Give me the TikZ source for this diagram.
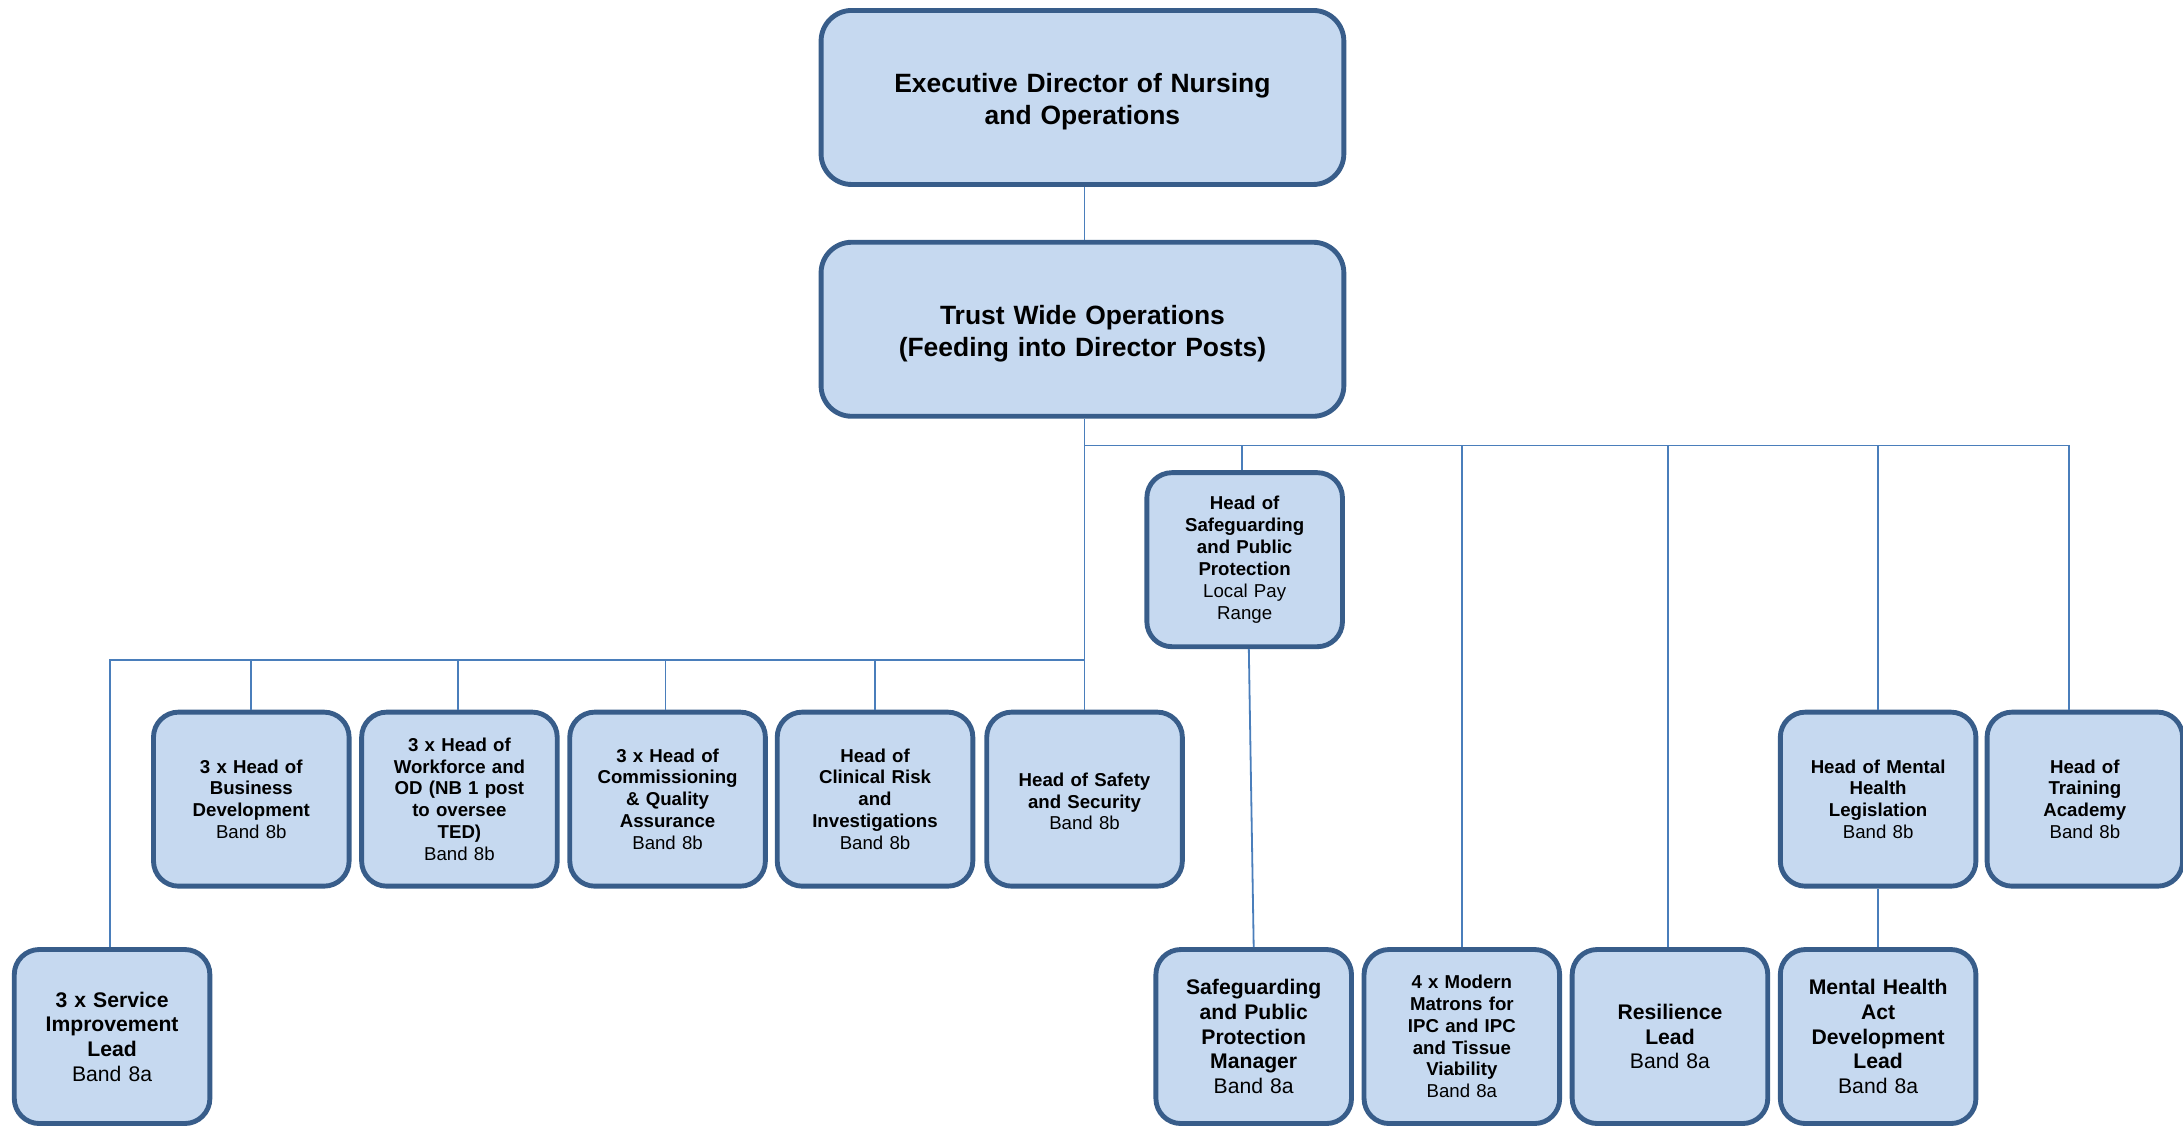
\documentclass[tikz,border=0pt]{standalone}
\usepackage{fontspec}
\setmainfont{Liberation Sans}
\definecolor{boxfill}{RGB}{198,217,240}
\definecolor{boxline}{RGB}{56,93,138}
\definecolor{connblue}{RGB}{74,126,187}
\begin{document}
\begin{tikzpicture}[x=1pt,y=-1pt,
  box/.style={draw=boxline, fill=boxfill, line width=3.5pt, rounded corners=18pt,
    minimum width=140.5pt, minimum height=125pt, inner sep=1pt, align=center,
    text width=136pt, font=\fontsize{13.4}{15.7}\selectfont\bfseries},
  bigbox/.style={box, font=\fontsize{15.2}{17.7}\selectfont\bfseries},
  topbox/.style={box, minimum width=375.5pt, minimum height=125pt, text width=360pt,
    rounded corners=22pt, font=\fontsize{19}{23}\selectfont\bfseries},
  link/.style={draw=connblue, line width=1.3pt}]
\useasboundingbox (0,0) rectangle (1568,809.5);

% nodes
\node[topbox] (top) at (777.5,70) {\rule{0pt}{20pt}Executive Director of Nursing\\and Operations};
\node[topbox] (ops) at (777.5,236.5) {\rule{0pt}{20pt}Trust Wide Operations\\(Feeding into Director Posts)};
\node[box] (sgh) at (894,402) {Head of\\Safeguarding\\and Public\\Protection\\\mdseries Local Pay\\Range};

\node[box] (bd) at (180.5,574) {3 x Head of\\Business\\Development\\\mdseries Band 8b};
\node[box] (wf) at (330,574) {3 x Head of\\Workforce and\\OD (NB 1 post\\to oversee\\TED)\\\mdseries Band 8b};
\node[box] (cq) at (479.5,574) {3 x Head of\\Commissioning\\\& Quality\\Assurance\\\mdseries Band 8b};
\node[box] (cr) at (628.5,574) {Head of\\Clinical Risk\\and\\Investigations\\\mdseries Band 8b};
\node[box] (ss) at (779,574) {\rule{0pt}{13pt}Head of Safety\\and Security\\\mdseries Band 8b};
\node[box] (mhl) at (1349,574) {Head of Mental\\Health\\Legislation\\\mdseries Band 8b};
\node[box] (ta) at (1497.5,574) {Head of\\Training\\Academy\\\mdseries Band 8b};

\node[bigbox] (si) at (80.5,744.5) {3 x Service\\Improvement\\Lead\\\mdseries Band 8a};
\node[bigbox] (sgm) at (900.5,744.5) {Safeguarding\\and Public\\Protection\\Manager\\\mdseries Band 8a};
\node[box] (mm) at (1050,744.5) {4 x Modern\\Matrons for\\IPC and IPC\\and Tissue\\Viability\\\mdseries Band 8a};
\node[bigbox] (rl) at (1199.5,744.5) {Resilience\\Lead\\\mdseries Band 8a};
\node[bigbox] (mha) at (1349,744.5) {Mental Health\\Act\\Development\\Lead\\\mdseries Band 8a};

% connectors
\coordinate (jR) at (779,320);
\coordinate (jL) at (779,474);
\draw[link] ([xshift=1.5pt]top.south) -- ([xshift=1.5pt]ops.north);
\draw[link] ([xshift=1.5pt]ops.south) -- (ss.north);
\draw[link] (jR) -| ([xshift=-2pt]sgh.north);
\draw[link] (jR) -| (mm.north);
\draw[link] (jR) -| ([xshift=-1.5pt]rl.north);
\draw[link] (jR) -| (mhl.north);
\draw[link] (jR) -| ([xshift=-11.5pt]ta.north);
\draw[link] (jL) -| ([xshift=-1.5pt]si.north);
\draw[link] (jL) -| (bd.north);
\draw[link] (jL) -| ([xshift=-1pt]wf.north);
\draw[link] (jL) -| ([xshift=-1.5pt]cq.north);
\draw[link] (jL) -| (cr.north);
\draw[link] ([xshift=3pt]sgh.south) -- (sgm.north);
\draw[link] (mhl.south) -- (mha.north);
\end{tikzpicture}
\end{document}
